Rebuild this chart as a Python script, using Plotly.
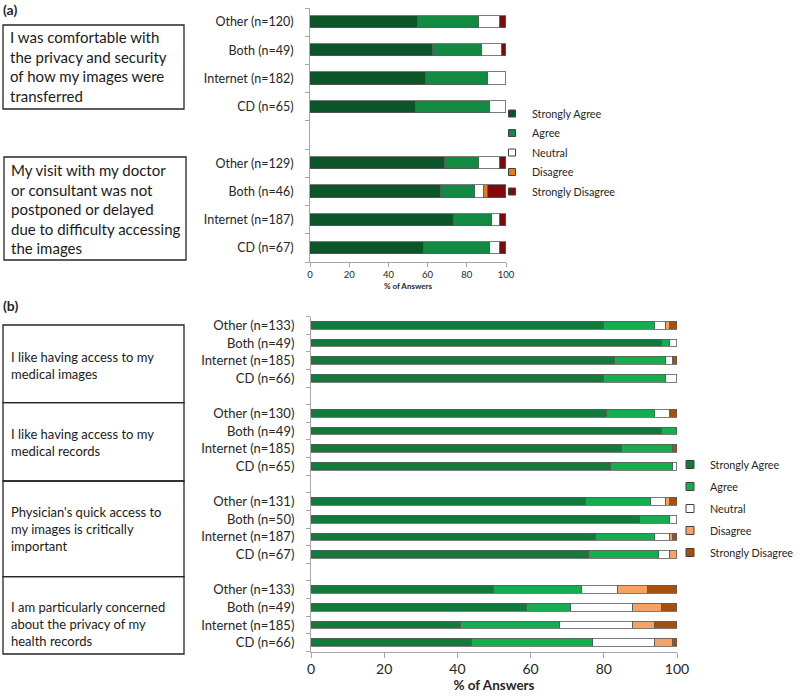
import plotly.graph_objects as go

W, H = 800, 699
FONT = "Lato"

# ---------------- data ----------------
responses = ["Strongly Agree", "Agree", "Neutral", "Disagree", "Strongly Disagree"]

# Panel (a): two statements, blank slot between groups
labels_a = ["Other (n=120)", "Both (n=49)", "Internet (n=182)", "CD (n=65)", "",
            "Other (n=129)", "Both (n=46)", "Internet (n=187)", "CD (n=67)"]
a_strongly_agree = [55, 63, 59, 54, None, 69, 67, 73.5, 58]
a_agree = [31, 25, 32, 38, None, 17, 17, 19.5, 34]
a_neutral = [11, 10, 9, 8, None, 11, 5, 4, 5]
a_disagree = [0, 0, 0, 0, None, 0, 2, 0, 0]
a_strongly_disagree = [3, 2, 0, 0, None, 3, 9, 3, 3]

# Panel (b): four statements, blank slot between groups
labels_b = ["Other (n=133)", "Both (n=49)", "Internet (n=185)", "CD (n=66)", "",
            "Other (n=130)", "Both (n=49)", "Internet (n=185)", "CD (n=65)", "",
            "Other (n=131)", "Both (n=50)", "Internet (n=187)", "CD (n=67)", "",
            "Other (n=133)", "Both (n=49)", "Internet (n=185)", "CD (n=66)"]
b_strongly_agree = [80, 96, 83, 80, None, 81, 96, 85, 82, None,
                    75, 90, 78, 76, None, 50, 59, 41, 44]
b_agree = [14, 2, 14, 17, None, 13, 4, 14, 17, None,
           18, 8, 16, 19, None, 24, 12, 27, 33]
b_neutral = [3, 2, 2, 3, None, 4, 0, 0, 1, None,
             4, 2, 4, 3, None, 10, 17, 20, 17]
b_disagree = [1, 0, 0, 0, None, 0, 0, 0, 0, None,
              1, 0, 1, 2, None, 8, 8, 6, 5]
b_strongly_disagree = [2, 0, 1, 0, None, 2, 0, 1, 0, None,
                       2, 0, 1, 0, None, 8, 4, 6, 1]

statements_a = ["I was comfortable with<br>the privacy and security<br>of how my images were<br>transferred",
                "My visit with my doctor<br>or consultant was not<br>postponed or delayed<br>due to difficulty accessing<br>the images"]
statements_b = ["I like having access to my<br>medical images",
                "I like having access to my<br>medical records",
                "Physician's quick access to<br>my images is critically<br>important",
                "I am particularly concerned<br>about the privacy of my<br>health records"]

colors_a = ["#0b5529", "#128a41", "#ffffff", "#e57d1c", "#7d0a0a"]
colors_b = ["#127a3b", "#14ae4f", "#ffffff", "#f5a264", "#a4510f"]

series_a = [a_strongly_agree, a_agree, a_neutral, a_disagree, a_strongly_disagree]
series_b = [b_strongly_agree, b_agree, b_neutral, b_disagree, b_strongly_disagree]


def px(x):
    return x / W


def py(y):
    return 1 - y / H


def clean(vals):
    return [v if v else None for v in vals]


fig = go.Figure()
pos_a = list(range(len(labels_a)))
pos_b = list(range(len(labels_b)))

for name, vals, col in zip(responses, series_a, colors_a):
    fig.add_trace(go.Bar(orientation="h", x=clean(vals), y=pos_a, width=0.43,
                         marker=dict(color=col, line=dict(color="#5a5a5a", width=0.8)),
                         name=name, showlegend=False, xaxis="x", yaxis="y"))
for name, vals, col in zip(responses, series_b, colors_b):
    fig.add_trace(go.Bar(orientation="h", x=clean(vals), y=pos_b, width=0.44,
                         marker=dict(color=col, line=dict(color="#5a5a5a", width=0.8)),
                         name=name, showlegend=False, xaxis="x2", yaxis="y2"))

# legend entries
for name, col in zip(responses, colors_a):
    fig.add_trace(go.Scatter(x=[None], y=[None], mode="markers", name=name,
                             marker=dict(symbol="square", size=7, color=col,
                                         line=dict(color="#404040", width=1)),
                             legend="legend", legendgroup="a" + name,
                             xaxis="x", yaxis="y"))
for name, col in zip(responses, colors_b):
    fig.add_trace(go.Scatter(x=[None], y=[None], mode="markers", name=name,
                             marker=dict(symbol="square", size=8, color=col,
                                         line=dict(color="#404040", width=1)),
                             legend="legend2", legendgroup="b" + name,
                             xaxis="x2", yaxis="y2"))

axis_col = "#a6a6a6"
txt_col = "#262626"

ticks_a = [(i, t) for i, t in enumerate(labels_a) if t]
ticks_b = [(i, t) for i, t in enumerate(labels_b) if t]

fig.update_layout(
    width=W, height=H, autosize=False,
    margin=dict(l=0, r=0, t=0, b=0),
    paper_bgcolor="white", plot_bgcolor="white",
    barmode="stack", bargap=0,
    font=dict(family=FONT, color=txt_col),
    xaxis=dict(domain=[px(310), px(506)], range=[0, 100], anchor="y",
               tickmode="array", tickvals=[0, 20, 40, 60, 80, 100],
               ticks="outside", ticklen=4, tickcolor=axis_col, automargin=False,
               showline=True, linecolor=axis_col, showgrid=False, zeroline=False,
               tickfont=dict(size=9.5, color=txt_col),
               title=dict(text="<b>% of Answers</b>", font=dict(size=8, color=txt_col), standoff=3)),
    yaxis=dict(domain=[py(262), py(8)], range=[len(labels_a) - 0.5, -0.5], anchor="x",
               tickmode="array", tickvals=[i for i, _ in ticks_a], ticktext=[t for _, t in ticks_a],
               ticks="", showline=True, linecolor=axis_col, showgrid=False, zeroline=False,
               ticklabelstandoff=13, automargin=False,
               tickfont=dict(size=12.5, color=txt_col),
               minor=dict(tickmode="array", tickvals=[i - 0.5 for i in range(len(labels_a) + 1)],
                          ticks="outside", ticklen=4, tickcolor=axis_col)),
    xaxis2=dict(domain=[px(311), px(677)], range=[0, 100], anchor="y2",
                tickmode="array", tickvals=[0, 20, 40, 60, 80, 100],
                ticks="outside", ticklen=5, tickcolor=axis_col, automargin=False,
                showline=True, linecolor=axis_col, showgrid=False, zeroline=False,
                tickfont=dict(size=14, color=txt_col),
                title=dict(text="<b>% of Answers</b>", font=dict(size=13.5, color=txt_col), standoff=4)),
    yaxis2=dict(domain=[py(651.5), py(316.5)], range=[len(labels_b) - 0.5, -0.5], anchor="x2",
                tickmode="array", tickvals=[i for i, _ in ticks_b], ticktext=[t for _, t in ticks_b],
                ticks="", showline=True, linecolor=axis_col, showgrid=False, zeroline=False,
                ticklabelstandoff=13, automargin=False,
                tickfont=dict(size=13, color=txt_col),
                minor=dict(tickmode="array", tickvals=[i - 0.5 for i in range(len(labels_b) + 1)],
                           ticks="outside", ticklen=4, tickcolor=axis_col)),
    legend=dict(x=px(492), y=py(99), xanchor="left", yanchor="top",
                bgcolor="rgba(0,0,0,0)", font=dict(size=10.8, color=txt_col),
                traceorder="grouped", tracegroupgap=0.5, itemclick=False),
    legend2=dict(x=px(670), y=py(450), xanchor="left", yanchor="top",
                 bgcolor="rgba(0,0,0,0)", font=dict(size=10.8, color=txt_col),
                 traceorder="grouped", tracegroupgap=3, itemclick=False),
)

shapes = []
annotations = []
box_line = dict(color="#262626", width=1.3)

# panel labels
annotations.append(dict(text="<b>(a)</b>", x=px(1), y=py(9), xref="paper", yref="paper",
                        xanchor="left", yanchor="middle", showarrow=False, font=dict(size=14)))
annotations.append(dict(text="<b>(b)</b>", x=px(1), y=py(305), xref="paper", yref="paper",
                        xanchor="left", yanchor="middle", showarrow=False, font=dict(size=14)))

# panel (a) boxes
boxes_a = [(3, 25, 184, 109, 67), (4, 157, 186, 260, 209)]
for (x0, y0, x1, y1, yc), txt in zip(boxes_a, statements_a):
    shapes.append(dict(type="rect", xref="paper", yref="paper", x0=px(x0), x1=px(x1),
                       y0=py(y1), y1=py(y0), line=box_line))
    annotations.append(dict(text=txt, x=px(x0 + 5), y=py(yc), xref="paper", yref="paper",
                            xanchor="left", yanchor="middle", align="left", showarrow=False,
                            font=dict(size=15, color="#1a1a1a")))

# panel (b) boxes
edges_b = [325, 402.7, 481, 576.7, 654]
centers_b = [365, 442.3, 529.2, 623.8]
for i, txt in enumerate(statements_b):
    shapes.append(dict(type="rect", xref="paper", yref="paper", x0=px(3), x1=px(184),
                       y0=py(edges_b[i + 1]), y1=py(edges_b[i]), line=box_line))
    annotations.append(dict(text=txt, x=px(9), y=py(centers_b[i]), xref="paper", yref="paper",
                            xanchor="left", yanchor="middle", align="left", showarrow=False,
                            font=dict(size=13, color="#1a1a1a")))

fig.update_layout(shapes=shapes, annotations=annotations)
fig.write_html("out.html", config={"displayModeBar": False},
               post_script="document.body.style.margin='0';")
